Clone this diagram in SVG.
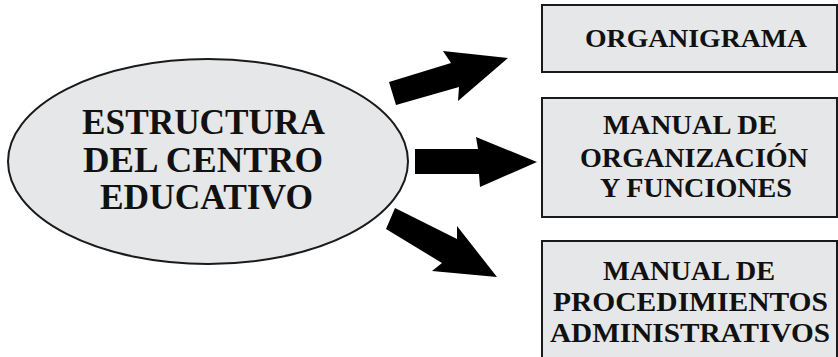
<svg xmlns="http://www.w3.org/2000/svg" width="838" height="357" viewBox="0 0 838 357">
<style>
.box{fill:#e6e7e8;stroke:#1a1a1a;stroke-width:2}
.t{font-family:"Liberation Serif","Times New Roman",serif;font-weight:bold;fill:#111;text-anchor:middle}
.arrow{fill:#000}
</style>
<rect width="838" height="357" fill="#fff"/>
<g id="connectors">
<polygon class="arrow" points="389,82 451,63 443,51 508,58 458,101 459,87 396,105"/>
<polygon class="arrow" points="415,149 478,149 476,137 537,162 480,187 479,174 415,174"/>
<polygon class="arrow" points="395,208 457,239 457,226 497,277 432,271 442,263 386,229"/>
</g>
<g id="estructura">
<ellipse class="box" cx="208" cy="161.5" rx="200" ry="102.5"/>
<text class="t" font-size="36" x="203.5" y="134" textLength="243" lengthAdjust="spacingAndGlyphs">ESTRUCTURA</text>
<text class="t" font-size="36" x="203" y="172" textLength="240" lengthAdjust="spacingAndGlyphs">DEL CENTRO</text>
<text class="t" font-size="36" x="206.5" y="209" textLength="213" lengthAdjust="spacingAndGlyphs">EDUCATIVO</text>
</g>
<g id="organigrama">
<rect class="box" x="542" y="5" width="295" height="67"/>
<text class="t" font-size="26" x="696" y="47" textLength="222" lengthAdjust="spacingAndGlyphs">ORGANIGRAMA</text>
</g>
<g id="manual-organizacion">
<rect class="box" x="542" y="98" width="295" height="119"/>
<text class="t" font-size="27" x="690" y="134" textLength="174" lengthAdjust="spacingAndGlyphs">MANUAL DE</text>
<text class="t" font-size="27" x="694" y="167" textLength="228" lengthAdjust="spacingAndGlyphs">ORGANIZACIÓN</text>
<text class="t" font-size="27" x="696" y="197" textLength="192" lengthAdjust="spacingAndGlyphs">Y FUNCIONES</text>
</g>
<g id="manual-procedimientos">
<rect class="box" x="542" y="241" width="295" height="130"/>
<text class="t" font-size="27" x="689" y="280" textLength="172" lengthAdjust="spacingAndGlyphs">MANUAL DE</text>
<text class="t" font-size="27" x="690.5" y="311" textLength="275" lengthAdjust="spacingAndGlyphs">PROCEDIMIENTOS</text>
<text class="t" font-size="27" x="690" y="342" textLength="280" lengthAdjust="spacingAndGlyphs">ADMINISTRATIVOS</text>
</g>
</svg>
